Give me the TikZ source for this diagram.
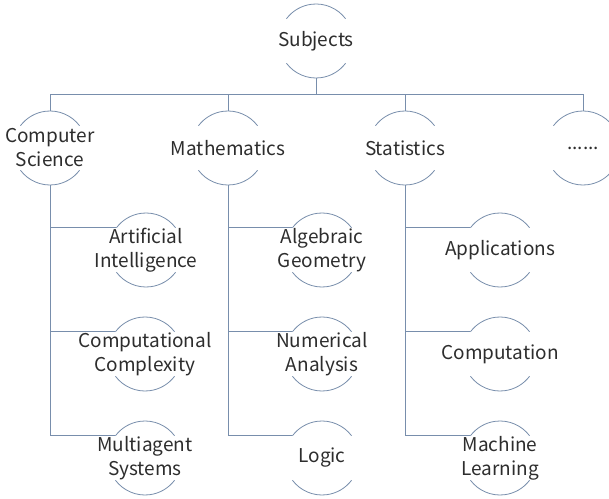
\documentclass[tikz,border=0pt]{standalone}
\usepackage{fontspec}
\setmainfont{Noto Sans CJK SC}
\usetikzlibrary{calc}
\definecolor{linkblue}{RGB}{120,142,172}
\definecolor{inkgray}{RGB}{45,45,45}
\tikzset{
  topic/.style={inner sep=0pt, align=center, text=inkgray,
    font=\fontsize{19}{24}\selectfont},
  conn/.style={draw=linkblue, line width=0.9pt},
  rim/.style={draw=linkblue, line width=0.8pt},
}
\begin{document}
\begin{tikzpicture}[x=1pt,y=1pt]
\useasboundingbox (0,0) rectangle (609,498);
\fill[white] (0,0) rectangle (609,498);

% root
\node[topic] (subj) at (316,457) {Subjects};
% first level
\node[topic] (cs)   at (50,350)  {Computer\\Science};
\node[topic] (math) at (228,350) {Mathematics};
\node[topic] (stat) at (405,350) {Statistics};
\node[topic] (dots) at (583,350) {......};
% second level
\node[topic] (ai)  at (146,248) {Artificial\\Intelligence};
\node[topic] (cc)  at (145,144) {Computational\\Complexity};
\node[topic] (mas) at (145,40)  {Multiagent\\Systems};
\node[topic] (ag)  at (322,248) {Algebraic\\Geometry};
\node[topic] (na)  at (322,144) {Numerical\\Analysis};
\node[topic] (lg)  at (322,40)  {Logic};
\node[topic] (app) at (500,248) {Applications};
\node[topic] (cmp) at (500,144) {Computation};
\node[topic] (ml)  at (500,40)  {Machine\\Learning};

% open circles: an upper and a lower arc round every topic
\foreach \n in {subj,cs,math,stat,dots,ai,cc,mas,ag,na,lg,app,cmp,ml}{
  \draw[rim] ($(\n)+(37:37)$) arc[start angle=37,end angle=143,radius=37];
  \draw[rim] ($(\n)+(217:37)$) arc[start angle=217,end angle=323,radius=37];
  \coordinate (\n-t) at ($(\n)+(90:37)$);
  \coordinate (\n-b) at ($(\n)+(270:37)$);
  \coordinate (\n-l) at ($(\n)+(143:37)$);
}

% root to first level
\coordinate (bar) at (0,404);
\draw[conn] (subj-b) -- (subj-b |- bar);
\draw[conn] (cs-t) -- (cs-t |- bar) -- (dots-t |- bar) -- (dots-t);
\draw[conn] (math-t) -- (math-t |- bar);
\draw[conn] (stat-t) -- (stat-t |- bar);

% first level to second level
\draw[conn] (cs-b) |- (mas-l);
\draw[conn] (cs-b |- ai-l) -- (ai-l);
\draw[conn] (cs-b |- cc-l) -- (cc-l);
\draw[conn] (math-b) |- (lg-l);
\draw[conn] (math-b |- ag-l) -- (ag-l);
\draw[conn] (math-b |- na-l) -- (na-l);
\draw[conn] (stat-b) |- (ml-l);
\draw[conn] (stat-b |- app-l) -- (app-l);
\draw[conn] (stat-b |- cmp-l) -- (cmp-l);
\end{tikzpicture}
\end{document}
